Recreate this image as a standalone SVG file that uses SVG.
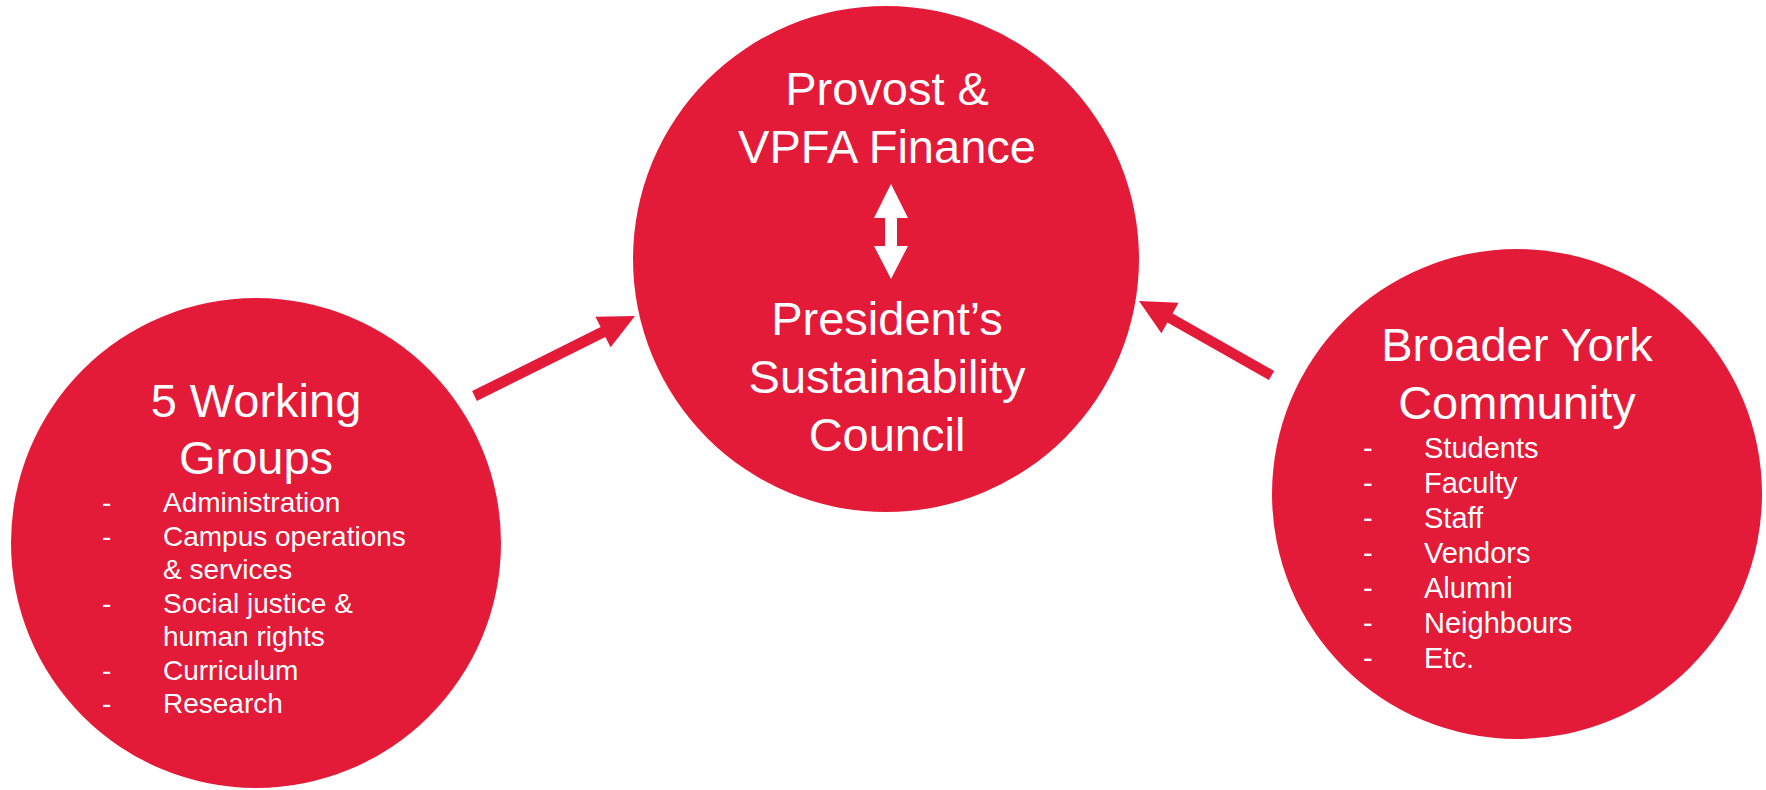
<svg xmlns="http://www.w3.org/2000/svg" width="1766" height="790" viewBox="0 0 1766 790">
<style>
.c{fill:#E31A38}
.t{fill:#fff;font-family:"Liberation Sans",Arial,sans-serif}
.h{font-size:47px;text-anchor:middle}
.l{font-size:28px}
.r{font-size:29px}
.a{fill:#E31A38}
</style>
<rect width="1766" height="790" fill="#fff"/>
<g id="center">
<circle class="c" cx="886" cy="259" r="253"/>
<text class="t h" x="887" y="105">Provost &amp;</text>
<text class="t h" x="887" y="163">VPFA Finance</text>
<polygon fill="#fff" points="891,184 908,218 897,218 897,246 908,246 891,279 874,246 885,246 885,218 874,218"/>
<text class="t h" x="887" y="335">President’s</text>
<text class="t h" x="887" y="393">Sustainability</text>
<text class="t h" x="887" y="451">Council</text>
</g>
<g id="working-groups">
<circle class="c" cx="256" cy="543" r="245"/>
<text class="t h" x="256" y="417">5 Working</text>
<text class="t h" x="256" y="474">Groups</text>
<g class="t l">
<text x="102" y="512">-</text><text x="163" y="512">Administration</text>
<text x="102" y="546">-</text><text x="163" y="546">Campus operations</text>
<text x="163" y="579">&amp; services</text>
<text x="102" y="613">-</text><text x="163" y="613">Social justice &amp;</text>
<text x="163" y="646">human rights</text>
<text x="102" y="680">-</text><text x="163" y="680">Curriculum</text>
<text x="102" y="713">-</text><text x="163" y="713">Research</text>
</g>
</g>
<g id="york-community">
<circle class="c" cx="1517" cy="494" r="245"/>
<text class="t h" x="1517" y="361">Broader York</text>
<text class="t h" x="1517" y="419">Community</text>
<g class="t r">
<text x="1363" y="458">-</text><text x="1424" y="458">Students</text>
<text x="1363" y="493">-</text><text x="1424" y="493">Faculty</text>
<text x="1363" y="528">-</text><text x="1424" y="528">Staff</text>
<text x="1363" y="563">-</text><text x="1424" y="563">Vendors</text>
<text x="1363" y="598">-</text><text x="1424" y="598">Alumni</text>
<text x="1363" y="633">-</text><text x="1424" y="633">Neighbours</text>
<text x="1363" y="668">-</text><text x="1424" y="668">Etc.</text>
</g>
</g>
<g id="connectors">
<polygon class="a" points="472.1,391.1 600.6,327.1 595.4,316.8 635,316 610.6,347.2 605.4,336.9 476.9,400.9"/>
<polygon class="a" points="1274.1,370.9 1172.6,313.4 1178.6,302.7 1139,301 1161.4,333.3 1167.4,322.6 1268.9,380.1"/>
</g>
</svg>
